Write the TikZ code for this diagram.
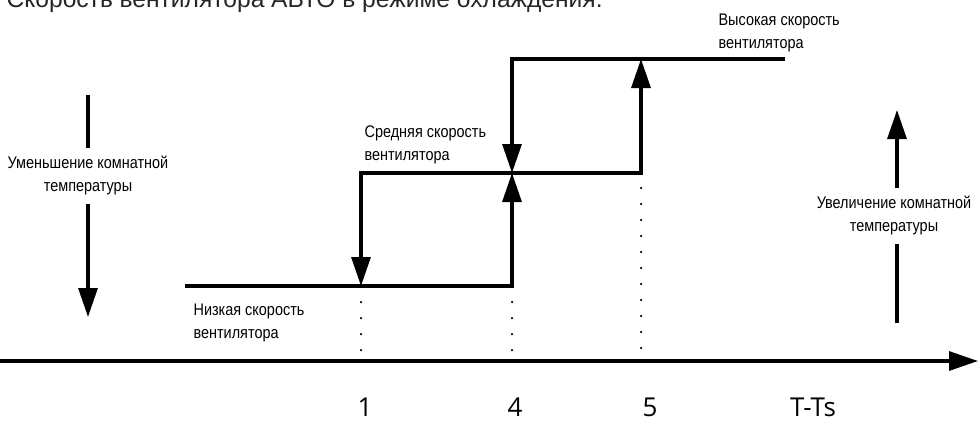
\documentclass[tikz,border=0pt]{standalone}
\usepackage{fontspec}
\setmainfont{Liberation Sans}
\newfontfamily\narrowfont{Liberation Sans}[FakeStretch=0.86]
\newfontfamily\numfont{Open Sans}
\usetikzlibrary{arrows.meta, positioning}

\begin{document}
\begin{tikzpicture}[x=1pt, y=-1pt, line width=3.2pt,
    tip/.style={-{Triangle[length=29pt, width=19pt]}},
    dotline/.style={line width=2.5pt, dash pattern=on 0pt off 16pt, line cap=round},
    lbl/.style={font=\narrowfont\fontsize{16.8}{23}\selectfont, align=left, anchor=north west, inner sep=0pt},
    sidelbl/.style={font=\narrowfont\fontsize{16.8}{23}\selectfont, align=center, inner xsep=0pt, inner ysep=7pt},
    ticklbl/.style={font=\numfont\fontsize{26}{30}\selectfont, anchor=base, inner sep=0pt}]
    \useasboundingbox (0,0) rectangle (979,421);
    \clip (0,0) rectangle (979,421);

    % title, cut at the top edge
    \node[anchor=base west, inner sep=0pt, font=\fontsize{24.6}{30}\selectfont, text=black!85] (title) at (5,7) {Скорость вентилятора АВТО в режиме охлаждения.};

    % axis
    \coordinate (o) at (0,361);
    \coordinate (xend) at (978,361);
    \draw[tip] (o) -- (xend);

    % fan speed levels
    \coordinate (l0) at (185,286);
    \coordinate (l1) at (361,286);
    \coordinate (l2) at (512,286);
    \coordinate (m0) at (361,173);
    \coordinate (m1) at (512,173);
    \coordinate (m2) at (641,173);
    \coordinate (h0) at (512,59);
    \coordinate (h1) at (641,59);
    \coordinate (h2) at (785,59);

    \draw[tip] (l0) -- (l2) -- (m1);
    \draw[tip] (m1) -- (m2) -- (h1);
    \draw[tip] (m1) -- (m0) -- (l1);
    \draw[tip] (h2) -- (h0) -- (m1);

    % dotted guides
    \coordinate (d1) at (361,302);
    \coordinate (d2) at (512,302);
    \coordinate (d3) at (641,188);
    \coordinate (e1) at (361,351);
    \coordinate (e2) at (512,351);
    \coordinate (e3) at (641,351);
    \draw[dotline] (d1) -- (e1);
    \draw[dotline] (d2) -- (e2);
    \draw[dotline] (d3) -- (e3);

    \node[lbl] (low) at (192,302) {Низкая скорость\\вентилятора};
    \node[lbl] (mid) at (363,124) {Средняя скорость\\вентилятора};
    \node[lbl] (high) at (717,12) {Высокая скорость\\вентилятора};

    % room temperature arrows
    \node[sidelbl] (dec) at (88,176) {Уменьшение комнатной\\температуры};
    \coordinate (dectop) at (88,95);
    \coordinate (decbot) at (88,317);
    \draw (dectop) -- (dec.north);
    \draw[tip] (dec.south) -- (decbot);

    \node[sidelbl] (inc) at (894,216) {Увеличение комнатной\\температуры};
    \coordinate (incbot) at (897,323);
    \coordinate (inctop) at (897,110);
    \draw (incbot) -- (inc.south -| incbot);
    \draw[tip] (inc.north -| inctop) -- (inctop);

    % ticks
    \node[ticklbl] (t1) at (365,416) {1};
    \node[ticklbl] (t4) at (515,416) {4};
    \node[ticklbl] (t5) at (650,416) {5};
    \node[ticklbl] (tts) at (813,416) {T-Ts};
\end{tikzpicture}
\end{document}
